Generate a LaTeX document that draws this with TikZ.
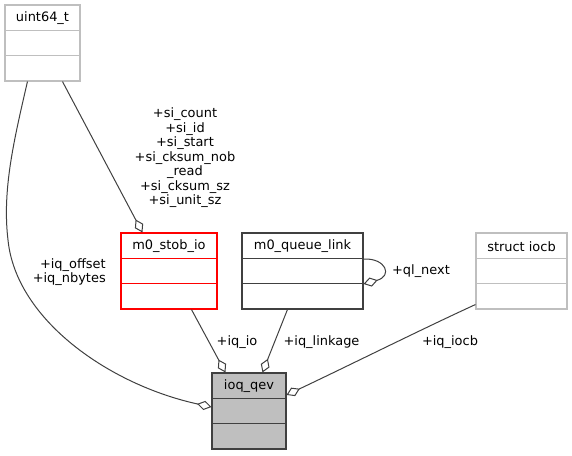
\documentclass[tikz,border=0pt]{standalone}
\usepackage{fontspec}
\setmainfont{DejaVu Sans}
\usetikzlibrary{arrows.meta,calc}
\definecolor{edgec}{HTML}{404040}
\definecolor{grayb}{HTML}{BFBFBF}
\tikzset{
  box/.style={draw, line width=0.8pt, inner sep=0pt, minimum height=57pt, minimum width=#1*0.75pt},
  title/.style={inner sep=0pt, font=\fontsize{9.7}{10.9}\selectfont},
  lbl/.style={inner sep=0pt, font=\fontsize{9.7}{10.9}\selectfont},
  agg/.style={draw=edgec, line width=0.75pt, -{Diamond[open, length=11pt, width=7pt, line width=0.75pt]}},
}
\begin{document}
\begin{tikzpicture}[x=0.75pt, y=-0.75pt]
\useasboundingbox (0,0) rectangle (572,456);
% boxes
\node[box=75, draw=grayb] (u) at (42.5,43) {};
\node[box=96, draw=red] (s) at (169,271) {};
\node[box=121, draw=edgec] (m) at (302.5,271) {};
\node[box=91, draw=grayb] (i) at (521.5,271) {};
\node[box=74, draw=edgec, fill=grayb] (q) at (249,411) {};
% row lines
\foreach \n/\c in {u/grayb, s/red, m/edgec, i/grayb, q/edgec} {
  \draw[\c, line width=0.8pt] ($(\n.north west)+(0,26)$) -- ($(\n.north east)+(0,26)$);
  \draw[\c, line width=0.8pt] ($(\n.north west)+(0,51)$) -- ($(\n.north east)+(0,51)$);
}
% titles
\node[title] (ut) at ($(u.north)+(0,14)$) {uint64\_t};
\node[title] (st) at ($(s.north)+(0,14)$) {m0\_stob\_io};
\node[title] (mt) at ($(m.north)+(0,14)$) {m0\_queue\_link};
\node[title] (it) at ($(i.north)+(0,14)$) {struct iocb};
\node[title] (qt) at ($(q.north)+(0,14)$) {ioq\_qev};
% edges
\draw[agg] ($(u.south west)+(23,0)$) .. controls (14,140) and (2,190) .. (8,240)
  .. controls (16,320) and (110,385) .. ($(q.west)+(0,-4)$);
\draw[agg] ($(u.south west)+(58,0)$) -- ($(s.north west)+(22,0)$);
\draw[agg] ($(s.south west)+(71,0)$) -- ($(q.north west)+(14,0)$);
\draw[agg] ($(m.south west)+(46,0)$) -- ($(q.north west)+(51,0)$);
\draw[agg] ($(i.south west)+(0,-5)$) .. controls (420,330) and (350,365) .. ($(q.east)+(0,-16)$);
\draw[agg] ($(m.east)+(0,-12)$) .. controls (386,258) and (393,276) .. ($(m.east)+(0,13)$);
% labels
\node[lbl, align=right, anchor=east] (l1) at (106,272) {+iq\_offset\\+iq\_nbytes};
\node[lbl, align=center] (l2) at (185,158) {+si\_count\\+si\_id\\+si\_start\\+si\_cksum\_nob\\\_read\\+si\_cksum\_sz\\+si\_unit\_sz};
\node[lbl] (l3) at (237,342) {+iq\_io};
\node[lbl] (l4) at (321.5,342) {+iq\_linkage};
\node[lbl] (l5) at (450,342) {+iq\_iocb};
\node[lbl] (l6) at (421,271) {+ql\_next};
\end{tikzpicture}
\end{document}
